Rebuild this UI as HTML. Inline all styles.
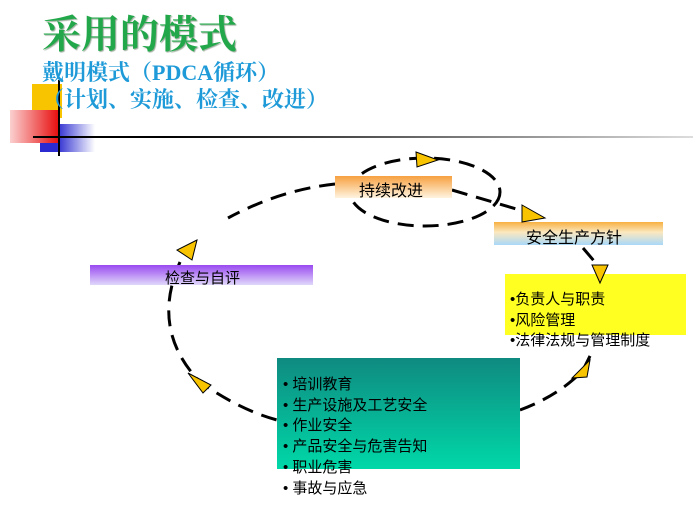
<!DOCTYPE html>
<html><head><meta charset="utf-8"><style>
html,body{margin:0;padding:0;background:#fff;}
body{width:700px;height:525px;position:relative;overflow:hidden;font-family:"Liberation Sans","Noto Sans CJK SC",sans-serif;}
.a{position:absolute;}
.t1{left:42px;top:13px;font-size:39px;font-weight:bold;color:#22a84a;font-family:"Liberation Serif","Noto Serif CJK SC",serif;line-height:46px;text-shadow:1px 1px 1px #9a9;}
.t2{left:42px;font-size:22px;font-weight:bold;color:#1e9ad8;font-family:"Liberation Serif","Noto Serif CJK SC",serif;line-height:26px;white-space:nowrap;}
.box{position:absolute;font-size:15px;color:#000;}
</style></head><body>
<div class="a" style="left:32px;top:84px;width:30px;height:34px;background:#f8c400;"></div>
<div class="a" style="left:40px;top:124px;width:55px;height:28px;background:linear-gradient(to right,#2a2ad0 30%,#fff);"></div>
<div class="a" style="left:10px;top:110px;width:48px;height:33px;background:linear-gradient(to left,#e81010,#fbd0d0);"></div>
<div class="a" style="left:33px;top:136px;width:660px;height:2px;background:linear-gradient(to right,#000 20%,#888 70%,#ddd);"></div>
<div class="a" style="left:58px;top:80px;width:2px;height:76px;background:#000;"></div>
<div class="a t1">采用的模式</div>
<div class="a t2" style="top:60px;">戴明模式（PDCA循环）</div>
<div class="a t2" style="top:87px;">（计划、实施、检查、改进）</div>

<svg class="a" style="left:0;top:0" width="700" height="525" viewBox="0 0 700 525">
<g fill="none" stroke="#000" stroke-width="3" stroke-dasharray="16,9">
<ellipse cx="425" cy="192" rx="75" ry="34"/>
<path d="M335,184 Q280,190 228,218"/>
<path d="M180,262 Q150,330 200,382 Q240,410 277,420"/>
<path d="M452,190 L530,213"/>
<path d="M583,248 L600,268"/>
<path d="M520,410 Q560,395 583,370 L593,350"/>
</g>
</svg>

<div class="box" style="left:335px;top:176px;width:117px;height:22px;background:linear-gradient(#f7a040,#fff4e0);"><span style="position:absolute;left:24px;top:1px;font-size:16px;">持续改进</span></div>
<div class="box" style="left:494px;top:222px;width:169px;height:23px;background:linear-gradient(#f7b040,#fbe8c0 45%,#a8d8f8);"><span style="position:absolute;left:32px;top:2px;font-size:16px;">安全生产方针</span></div>
<div class="box" style="left:90px;top:265px;width:223px;height:20px;background:linear-gradient(#9a4af0,#e0d8fa);"><span style="position:absolute;left:75px;top:2px;">检查与自评</span></div>
<div class="box" style="left:505px;top:274px;width:181px;height:61px;background:#ffff22;"></div>
<div class="box" style="left:510px;top:290px;line-height:20.5px;">•负责人与职责<br>•风险管理<br>•法律法规与管理制度</div>
<div class="box" style="left:277px;top:358px;width:243px;height:111px;background:linear-gradient(#0f8a80,#00d8a8);"></div>
<div class="box" style="left:283px;top:375px;line-height:20.7px;">• 培训教育<br>• 生产设施及工艺安全<br>• 作业安全<br>• 产品安全与危害告知<br>• 职业危害<br>• 事故与应急</div>

<svg class="a" style="left:0;top:0" width="700" height="525" viewBox="0 0 700 525">
<g fill="#f8c400" stroke="#000" stroke-width="1">
<polygon points="416,152 438,160 417,167"/>
<polygon points="522,205 545,218 522,222"/>
<polygon points="592,265 608,265 600,283"/>
<polygon points="590,360 587,377 572,378"/>
<polygon points="188,373 211,385 203,393"/>
<polygon points="197,240 177,250 192,260"/>
</g>
</svg>
</body></html>
